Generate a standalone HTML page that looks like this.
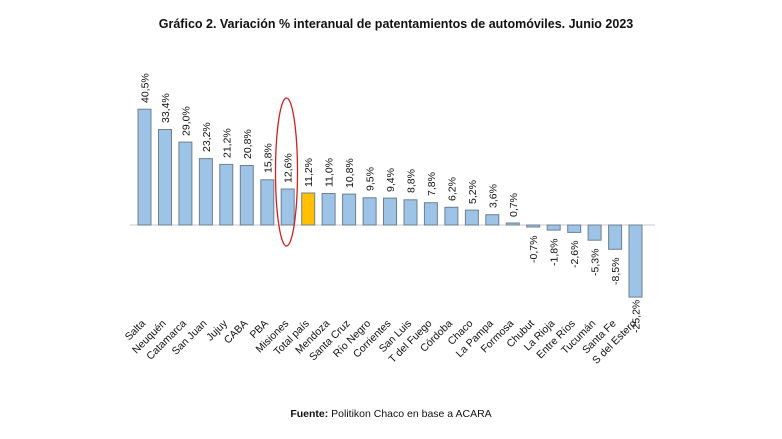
<!DOCTYPE html>
<html><head><meta charset="utf-8"><style>
html,body{margin:0;padding:0;background:#fff;}
svg{display:block;font-family:"Liberation Sans",Arial,sans-serif;}
.b{fill:#9dc3e6;stroke:#6f7f8f;stroke-width:1;}
.v{font-size:10.5px;fill:#111;}
.c{font-size:10.5px;fill:#111;text-anchor:end;}
</style></head><body>
<svg width="782" height="439" viewBox="0 0 782 439" xmlns="http://www.w3.org/2000/svg">
<text x="396" y="28" text-anchor="middle" font-size="12.5" font-weight="bold" fill="#111">Gráfico 2. Variación % interanual de patentamientos de automóviles. Junio 2023</text>
<line x1="130" y1="225" x2="655" y2="225" stroke="#c8c8c8" stroke-width="1"/>
<g>
<rect class="b" x="138" y="109.2" width="13" height="115.8"/>
<rect class="b" x="158.5" y="129.5" width="13" height="95.5"/>
<rect class="b" x="178.9" y="142.1" width="13" height="82.9"/>
<rect class="b" x="199.4" y="158.6" width="13" height="66.4"/>
<rect class="b" x="219.8" y="164.4" width="13" height="60.6"/>
<rect class="b" x="240.3" y="165.5" width="13" height="59.5"/>
<rect class="b" x="260.8" y="179.8" width="13" height="45.2"/>
<rect class="b" x="281.2" y="189" width="13" height="36"/>
<rect x="301.7" y="193" width="13" height="32" fill="#ffc000" stroke="#6f7f8f"/>
<rect class="b" x="322.1" y="193.5" width="13" height="31.5"/>
<rect class="b" x="342.6" y="194.1" width="13" height="30.9"/>
<rect class="b" x="363.1" y="197.8" width="13" height="27.2"/>
<rect class="b" x="383.5" y="198.1" width="13" height="26.9"/>
<rect class="b" x="404" y="199.8" width="13" height="25.2"/>
<rect class="b" x="424.4" y="202.7" width="13" height="22.3"/>
<rect class="b" x="444.9" y="207.3" width="13" height="17.7"/>
<rect class="b" x="465.4" y="210.1" width="13" height="14.9"/>
<rect class="b" x="485.8" y="214.7" width="13" height="10.3"/>
<rect class="b" x="506.3" y="223" width="13" height="2"/>
<rect class="b" x="526.7" y="225" width="13" height="2"/>
<rect class="b" x="547.2" y="225" width="13" height="5.1"/>
<rect class="b" x="567.7" y="225" width="13" height="7.4"/>
<rect class="b" x="588.1" y="225" width="13" height="15.2"/>
<rect class="b" x="608.6" y="225" width="13" height="24.3"/>
<rect class="b" x="629" y="225" width="13" height="72.1"/>
</g>
<g class="v">
<text transform="translate(148.5,103) rotate(-90)">40,5%</text>
<text transform="translate(169,123) rotate(-90)">33,4%</text>
<text transform="translate(189.4,136) rotate(-90)">29,0%</text>
<text transform="translate(209.9,152) rotate(-90)">23,2%</text>
<text transform="translate(230.3,158) rotate(-90)">21,2%</text>
<text transform="translate(250.8,159) rotate(-90)">20,8%</text>
<text transform="translate(271.3,173) rotate(-90)">15,8%</text>
<text transform="translate(291.7,183) rotate(-90)">12,6%</text>
<text transform="translate(312.2,187) rotate(-90)">11,2%</text>
<text transform="translate(332.6,187) rotate(-90)">11,0%</text>
<text transform="translate(353.1,188) rotate(-90)">10,8%</text>
<text transform="translate(373.6,191) rotate(-90)">9,5%</text>
<text transform="translate(394,192) rotate(-90)">9,4%</text>
<text transform="translate(414.5,193) rotate(-90)">8,8%</text>
<text transform="translate(434.9,196) rotate(-90)">7,8%</text>
<text transform="translate(455.4,201) rotate(-90)">6,2%</text>
<text transform="translate(475.9,204) rotate(-90)">5,2%</text>
<text transform="translate(496.3,208) rotate(-90)">3,6%</text>
<text transform="translate(516.8,217) rotate(-90)">0,7%</text>
<text transform="translate(537.2,263) rotate(-90)">-0,7%</text>
<text transform="translate(557.7,266) rotate(-90)">-1,8%</text>
<text transform="translate(578.2,268) rotate(-90)">-2,6%</text>
<text transform="translate(598.6,276) rotate(-90)">-5,3%</text>
<text transform="translate(619.1,285) rotate(-90)">-8,5%</text>
<text transform="translate(639.5,333) rotate(-90)">-25,2%</text>
</g>
<g class="c">
<text transform="translate(146,324) rotate(-45)">Salta</text>
<text transform="translate(166.5,324) rotate(-45)">Neuquén</text>
<text transform="translate(186.9,324) rotate(-45)">Catamarca</text>
<text transform="translate(207.4,324) rotate(-45)">San Juan</text>
<text transform="translate(227.8,324) rotate(-45)">Jujuy</text>
<text transform="translate(248.3,324) rotate(-45)">CABA</text>
<text transform="translate(268.8,324) rotate(-45)">PBA</text>
<text transform="translate(289.2,324) rotate(-45)">Misiones</text>
<text transform="translate(309.7,324) rotate(-45)">Total país</text>
<text transform="translate(330.1,324) rotate(-45)">Mendoza</text>
<text transform="translate(350.6,324) rotate(-45)">Santa Cruz</text>
<text transform="translate(371.1,324) rotate(-45)">Río Negro</text>
<text transform="translate(391.5,324) rotate(-45)">Corrientes</text>
<text transform="translate(412,324) rotate(-45)">San Luis</text>
<text transform="translate(432.4,324) rotate(-45)">T del Fuego</text>
<text transform="translate(452.9,324) rotate(-45)">Córdoba</text>
<text transform="translate(473.4,324) rotate(-45)">Chaco</text>
<text transform="translate(493.8,324) rotate(-45)">La Pampa</text>
<text transform="translate(514.3,324) rotate(-45)">Formosa</text>
<text transform="translate(534.7,324) rotate(-45)">Chubut</text>
<text transform="translate(555.2,324) rotate(-45)">La Rioja</text>
<text transform="translate(575.7,324) rotate(-45)">Entre Ríos</text>
<text transform="translate(596.1,324) rotate(-45)">Tucumán</text>
<text transform="translate(616.6,324) rotate(-45)">Santa Fe</text>
<text transform="translate(637,324) rotate(-45)">S del Estero</text>
</g>
<ellipse cx="286.5" cy="172" rx="11" ry="74" fill="none" stroke="#d02020" stroke-width="1.3"/>
<text x="391" y="417" text-anchor="middle" font-size="10.5" fill="#111"><tspan font-weight="bold">Fuente:</tspan> Politikon Chaco en base a ACARA</text>
</svg>
</body></html>
